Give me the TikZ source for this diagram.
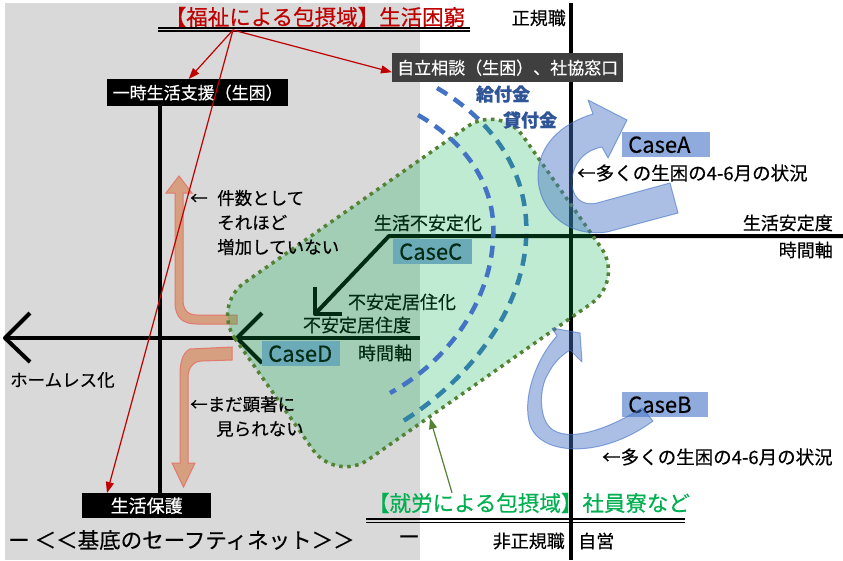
\documentclass[tikz,border=0pt]{standalone}
\usepackage{fontspec}
\setmainfont{Noto Sans CJK JP}[FakeBold=0.4]
\usetikzlibrary{arrows.meta}
\definecolor{bggray}{RGB}{217,217,217}
\definecolor{titlered}{RGB}{192,0,0}
\definecolor{titlegreen}{RGB}{0,176,80}
\definecolor{zonegreen}{RGB}{0,176,80}
\definecolor{zoneline}{RGB}{84,130,53}
\definecolor{dashblue}{RGB}{68,114,196}
\definecolor{kinblue}{RGB}{47,85,151}
\definecolor{casefill}{RGB}{143,170,220}
\definecolor{orfill}{RGB}{214,160,128}
\definecolor{orline}{RGB}{226,120,110}
\definecolor{darkbox}{RGB}{63,63,63}
\newcommand{\jfs}[2]{\fontsize{#1}{#2}\selectfont}

\begin{document}
\begin{tikzpicture}[x=1pt,y=-1pt,
  axis/.style={line width=4pt,line join=round},
  bdash/.style={draw=dashblue,line width=4.5pt,dash pattern=on 12pt off 8pt},
  lbl/.style={inner sep=0pt,font=\jfs{18}{22}},
  note/.style={inner sep=0pt,font=\jfs{17.5}{24.5},align=left},
  blackbox/.style={fill=black,text=white,inner sep=0pt,font=\jfs{17}{20}},
  casebox/.style={fill=casefill,inner xsep=6pt,inner ysep=0pt,minimum height=25pt,text width=#1,align=left,font=\jfs{22}{24}},
  zone/.style={fill=zonegreen,fill opacity=0.25,draw=zoneline,line width=3.5pt,dash pattern=on 3.5pt off 4.5pt,rounded corners=40pt},
  turn/.style={fill=dashblue,fill opacity=0.45,draw=dashblue,draw opacity=0.6,line width=1pt,line join=round},
  orbend/.style={fill=orfill,draw=orline,line width=1pt},
  redarr/.style={draw=titlered,line width=1.2pt,-{Triangle[length=11pt,width=8pt]}},
  grnarr/.style={draw=zoneline,line width=1.2pt,-{Triangle[length=11pt,width=8pt]}},
  uline/.style={line width=1.1pt}]
\useasboundingbox (0,0) rectangle (843,560);
\fill[bggray] (5,3) rectangle (420,560);
\draw[bdash] (437,88) .. controls (500,125) and (530,180) .. (526,240) .. controls (522,310) and (470,380) .. (400,423);
\draw[axis] (571,3) -- (571,560);
\draw[axis] (843,236) -- (389,236) -- (315,314);
\draw[axis] (315,287) -- (315,314) -- (342,314);
\draw[axis] (5,338) -- (420,338);
\draw[axis] (30,313) -- (5,338) -- (30,362);
\draw[axis] (262,313) -- (237,338) -- (262,363);
\draw[axis] (160,106) -- (160,493);
\filldraw[orbend] (237,315) -- (197,315) .. controls (187,315) and (183,309) .. (183,300) -- (183,193) -- (192,193) -- (179,176) -- (166,193) -- (175,193) -- (175,302) .. controls (175,318) and (183,324) .. (197,324) -- (237,324) -- cycle;
\filldraw[orbend] (232,347) -- (190,349) .. controls (183,352) and (180,362) .. (180,375) -- (180,463) -- (172,463) -- (183.5,487) -- (195,463) -- (188,463) -- (188,378) .. controls (188,368) and (193,361) .. (202,361) -- (232,360) -- cycle;
\node[lbl] (fuantei) at (428,223) {生活不安定化};
\node[casebox=67pt,anchor=north west] (caseC) at (393,239) {CaseC};
\node[lbl] (kyoju) at (402,302) {不安定居住化};
\node[lbl] (kyojudo) at (357,325) {不安定居住度};
\node[lbl] (jikanL) at (385,353) {時間軸};
\node[casebox=66pt,anchor=north west] (caseD) at (262,341) {CaseD};
\begin{scope}[shift={(418,293)},rotate=35]
  \filldraw[zone] (-176,-108) rectangle (176,108);
\end{scope}
\draw[bdash] (418,115) .. controls (470,145) and (497,190) .. (493,240) .. controls (490,300) and (450,360) .. (390,393);
\node[casebox=76pt,anchor=north west] (caseA) at (622,132) {CaseA};
\node[casebox=74pt,anchor=north west] (caseB) at (622,392) {CaseB};
\filldraw[turn] (670,183) -- (597,203) .. controls (580,207) and (571,195) .. (572,180) .. controls (573,163) and (585,150) .. (602,147) -- (608,158) -- (627,120) -- (588,100) -- (593,114) .. controls (560,124) and (538,146) .. (538,176) .. controls (538,208) and (565,238) .. (607,232) -- (678,213) -- cycle;
\filldraw[turn] (642,408) .. controls (610,428) and (572,442) .. (553,430) .. controls (538,420) and (539,388) .. (548,374) .. controls (554,362) and (562,355) .. (570,350) -- (582,362) -- (580,333) -- (552,328) -- (557,336) .. controls (535,360) and (522,400) .. (530,425) .. controls (540,455) and (600,460) .. (653,421) -- cycle;
\node[note,font=\jfs{18.5}{24},anchor=west] (joukyouA) at (577,173) {←多くの生困の4-6月の状況};
\node[note,font=\jfs{18.5}{24},anchor=west] (joukyouB) at (602,457) {←多くの生困の4-6月の状況};
\node[lbl,anchor=east] (antei) at (833,223) {生活安定度};
\node[lbl,anchor=east] (jikanR) at (833,250) {時間軸};
\node[lbl,anchor=east] (seiki) at (566,18) {正規職};
\node[lbl,anchor=east] (hiseiki) at (565,541) {非正規職};
\node[lbl,anchor=west] (jiei) at (578,541) {自営};
\node[lbl,font=\bfseries\jfs{18}{22},text=kinblue] (kyufu) at (503,94) {給付金};
\node[lbl,font=\bfseries\jfs{18}{22},text=kinblue] (kashi) at (530,120) {貸付金};
\node[note,anchor=west] (kensu) at (190,222.5) {\makebox[27pt][l]{←}件数として\\\hspace{27pt}それほど\\\hspace{27pt}増加していない};
\node[note,anchor=west] (kencho) at (190,416.5) {←まだ顕著に\\\hspace{26pt}見られない};
\node[note,anchor=west] (homeless) at (10,380) {ホームレス化};
\node[blackbox,minimum width=181pt,minimum height=27pt,anchor=north west] (ichiji) at (107,79) {一時生活支援（生困）};
\node[blackbox,fill=darkbox,minimum width=231pt,minimum height=29pt,anchor=north west] (jiritsu) at (392,53) {自立相談（生困）、社協窓口};
\node[blackbox,font=\jfs{18}{20},minimum width=129pt,minimum height=25pt,anchor=north west] (hogo) at (82,493) {生活保護};
\node[inner sep=0pt,font=\jfs{21.5}{24},anchor=west] (kitei) at (8,540) {ー\hspace{5pt}＜＜基底のセーフティネット＞＞};
\node[inner sep=0pt,font=\jfs{21.5}{24}] (kiteiend) at (409,540) {ー};
\node[inner sep=0pt,font=\jfs{21.5}{24},text=titlered] (fukushi) at (315,17) {【福祉による包摂域】生活困窮};
\draw[uline] (158,28) -- (470,28) (158,31) -- (470,31);
\node[inner sep=0pt,font=\jfs{21.5}{24},text=titlegreen] (shuro) at (529,503) {【就労による包摂域】社員寮など};
\draw[uline] (366,519) -- (685,519) (366,522.5) -- (685,522.5);
\coordinate (fsrc) at (233,30);
\coordinate (ztip) at (430,418);
\draw[redarr] (fsrc) -- ([xshift=-9pt]ichiji.north);
\draw[redarr] (fsrc) -- ([yshift=-4.5pt]jiritsu.west);
\draw[redarr] (fsrc) -- ([xshift=25pt]hogo.north west);
\draw[grnarr] ([xshift=-77pt]shuro.north) -- (ztip);
\end{tikzpicture}
\end{document}
